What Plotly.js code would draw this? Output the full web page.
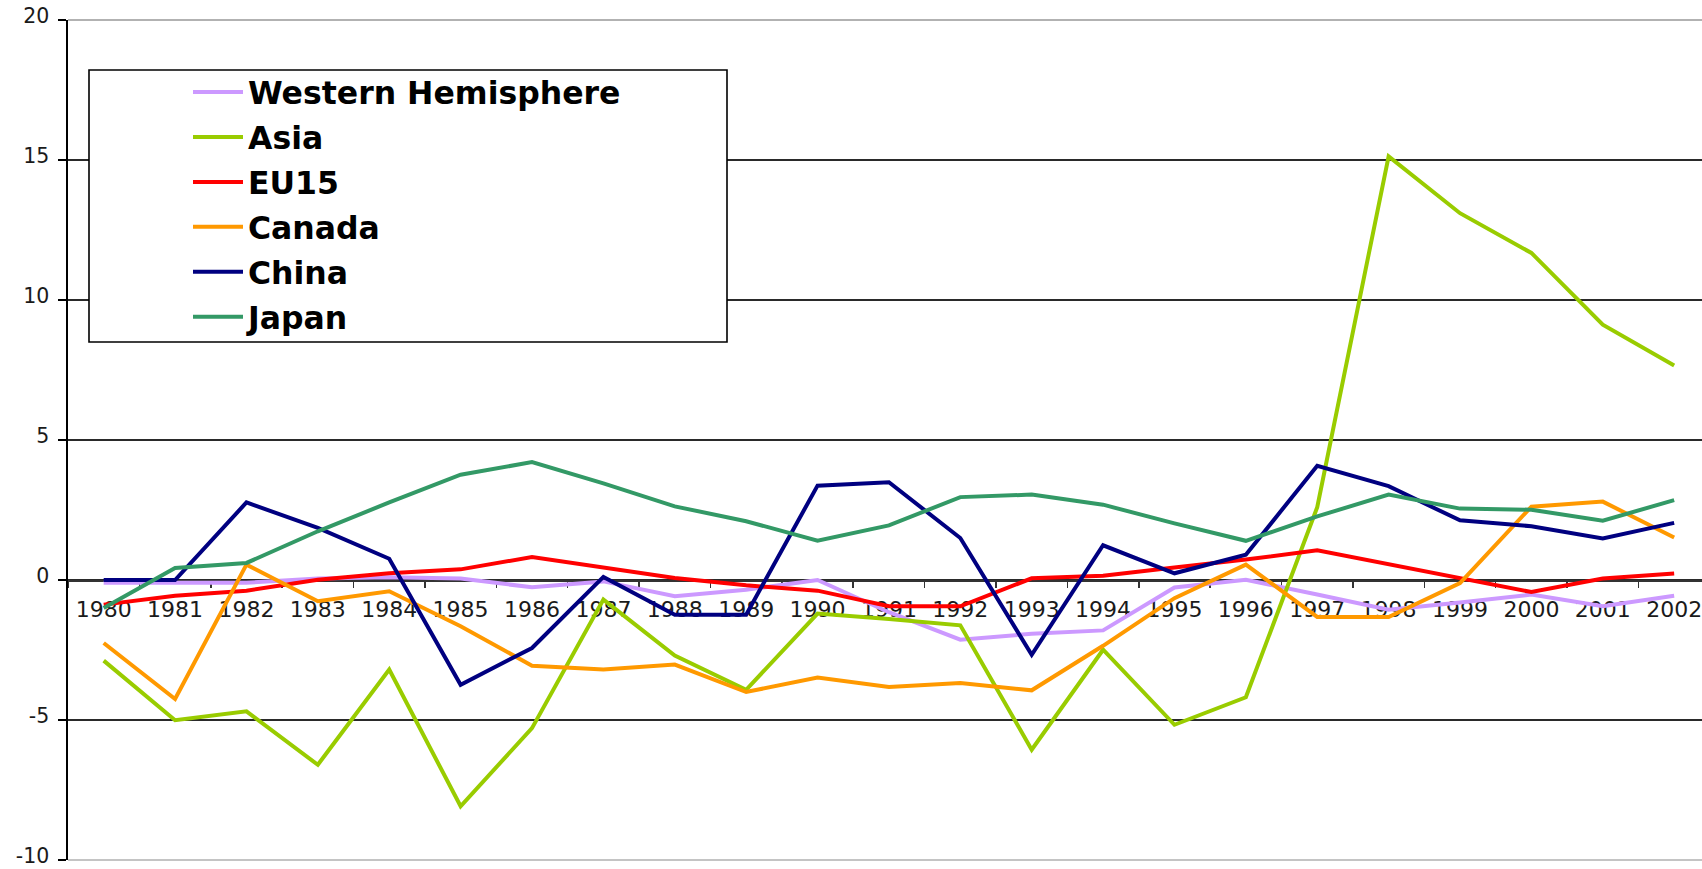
<!DOCTYPE html>
<html>
<head>
<meta charset="utf-8">
<script src="https://cdn.plot.ly/plotly-3.0.1.min.js"></script>
<style>
  html, body { margin: 0; padding: 0; background: #ffffff; }
  #chart { width: 1702px; height: 869px; }
</style>
</head>
<body>
<div id="chart"></div>
<script>
// ---- Data ----
var years = ['1980','1981','1982','1983','1984','1985','1986','1987','1988','1989','1990','1991',
             '1992','1993','1994','1995','1996','1997','1998','1999','2000','2001','2002'];

var westernHemisphere = [-0.10, -0.10, -0.10, 0.05, 0.10, 0.05, -0.26, -0.05, -0.58, -0.35, 0.00, -1.15,
                         -2.13, -1.92, -1.80, -0.27, 0.01, -0.52, -1.06, -0.80, -0.52, -0.94, -0.56];
var asia = [-2.88, -5.01, -4.69, -6.60, -3.20, -8.08, -5.29, -0.70, -2.70, -3.92, -1.20, -1.39,
            -1.62, -6.06, -2.49, -5.17, -4.19, 2.60, 15.13, 13.10, 11.68, 9.12, 7.66];
var eu15 = [-0.88, -0.56, -0.38, 0.01, 0.24, 0.38, 0.82, 0.43, 0.07, -0.19, -0.38, -0.94,
            -0.94, 0.06, 0.15, 0.45, 0.73, 1.06, 0.57, 0.05, -0.43, 0.05, 0.23];
var canada = [-2.25, -4.25, 0.55, -0.76, -0.40, -1.65, -3.06, -3.20, -3.02, -4.00, -3.48, -3.82,
              -3.68, -3.94, -2.35, -0.65, 0.55, -1.32, -1.32, -0.11, 2.62, 2.80, 1.52];
var china = [0.00, 0.00, 2.77, 1.86, 0.76, -3.74, -2.43, 0.11, -1.24, -1.24, 3.37, 3.49,
             1.50, -2.67, 1.24, 0.24, 0.90, 4.08, 3.35, 2.13, 1.92, 1.48, 2.04];
var japan = [-1.00, 0.43, 0.61, 1.74, 2.77, 3.76, 4.21, 3.45, 2.63, 2.10, 1.40, 1.95,
             2.96, 3.05, 2.69, 2.02, 1.40, 2.27, 3.05, 2.55, 2.51, 2.12, 2.85];

var seriesNames = ['Western Hemisphere', 'Asia', 'EU15', 'Canada', 'China', 'Japan'];
var seriesValues = [westernHemisphere, asia, eu15, canada, china, japan];
var seriesColors = ['#CC99FF', '#99CC00', '#FF0000', '#FF9900', '#000080', '#339966'];

var yTickVals = [-10, -5, 0, 5, 10, 15, 20];

// ---- Layout geometry ----
var W = 1702, H = 869;
var M = { l: 68, r: 0, t: 20, b: 9 };
var plotW = W - M.l - M.r, plotH = H - M.t - M.b;
function px2x(px) { return (px - M.l) / plotW; }
function px2y(py) { return (H - M.b - py) / plotH; }

var traces = seriesNames.map(function (name, i) {
  return {
    type: 'scatter',
    mode: 'lines',
    name: name,
    legendgroup: name,
    x: years,
    y: seriesValues[i],
    line: { color: seriesColors[i], width: 4 },
    hoverinfo: 'x+y+name'
  };
});

var layout = {
  width: W,
  height: H,
  margin: { l: M.l, r: M.r, t: M.t, b: M.b, pad: 0 },
  paper_bgcolor: '#ffffff',
  plot_bgcolor: '#ffffff',
  showlegend: true,
  xaxis: {
    type: 'category',
    range: [-0.5, 22.39],
    anchor: 'free',
    position: 1 / 3,
    layer: 'below traces',
    showline: true,
    linecolor: '#333333',
    linewidth: 1.6,
    ticks: 'outside',
    tickson: 'boundaries',
    ticklen: 6,
    tickwidth: 1.5,
    tickcolor: '#333333',
    showgrid: false,
    zeroline: false,
    ticklabelstandoff: 9,
    ticklabeloverflow: 'allow',
    tickfont: { family: 'DejaVu Sans, sans-serif', size: 22, color: '#1a1a1a' },
    fixedrange: true
  },
  yaxis: {
    range: [-10, 20],
    tickmode: 'array',
    tickvals: yTickVals,
    ticktext: yTickVals.map(String),
    showline: true,
    linecolor: '#000000',
    linewidth: 1.6,
    ticks: 'outside',
    ticklen: 8,
    tickwidth: 1.5,
    tickcolor: '#000000',
    showgrid: true,
    gridcolor: '#2a2a2a',
    gridwidth: 1.6,
    zeroline: false,
    ticklabelstandoff: 5,
    ticklabelshift: -4,
    ticklabeloverflow: 'allow',
    tickfont: { family: 'DejaVu Sans, sans-serif', size: 20.5, color: '#1a1a1a' },
    fixedrange: true
  },
  legend: {
    x: px2x(188),
    y: px2y(65),
    xanchor: 'left',
    yanchor: 'top',
    bgcolor: 'rgba(0,0,0,0)',
    borderwidth: 0,
    itemwidth: 50,
    traceorder: 'grouped',
    tracegroupgap: 1,
    font: { family: 'DejaVu Sans, sans-serif', size: 31.5, weight: 'bold', color: '#000000' }
  },
  shapes: [
    { type: 'line', xref: 'paper', yref: 'paper', x0: 0, x1: 1, y0: 1, y1: 1,
      line: { color: '#999999', width: 1.6 }, layer: 'above' },
    { type: 'line', xref: 'paper', yref: 'paper', x0: 0, x1: 1, y0: 0, y1: 0,
      line: { color: '#b0b0b0', width: 1.6 }, layer: 'above' },
    { type: 'rect', xref: 'paper', yref: 'paper',
      x0: px2x(89), x1: px2x(727), y0: px2y(342), y1: px2y(70),
      fillcolor: '#ffffff', line: { color: '#000000', width: 1.6 }, layer: 'above' }
  ]
};

Plotly.newPlot('chart', traces, layout, { displayModeBar: false, staticPlot: true });
</script>
</body>
</html>
